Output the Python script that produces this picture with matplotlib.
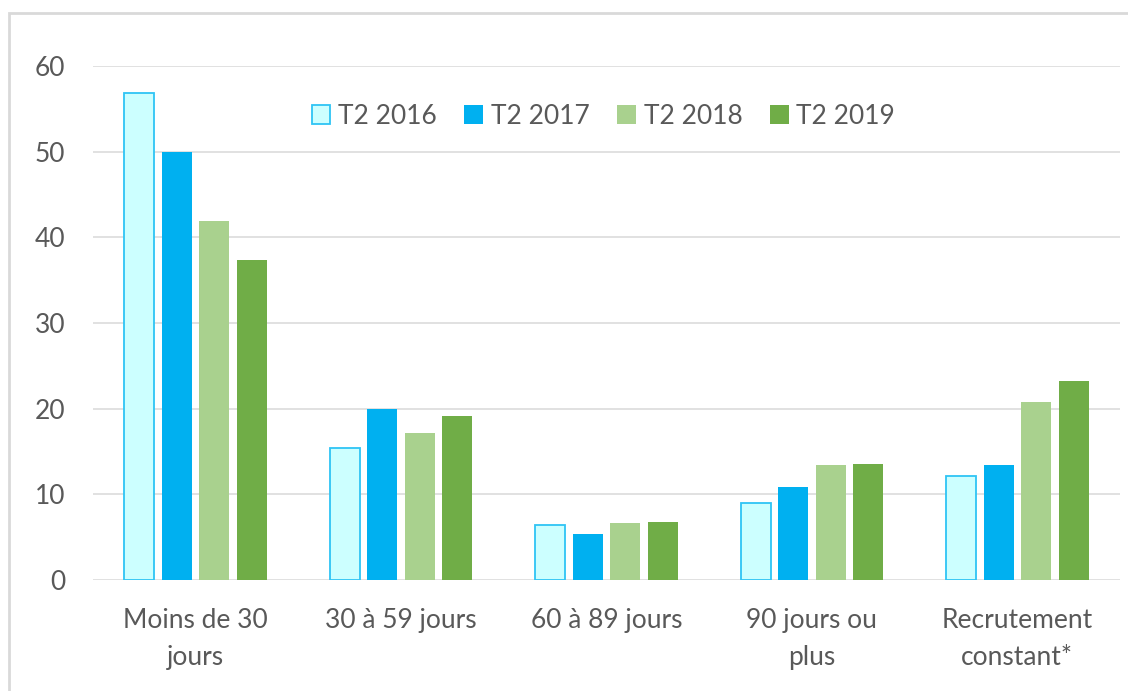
import numpy as np
import matplotlib.pyplot as plt
from matplotlib.patches import Rectangle

categories = ['Moins de 30\njours', '30 à 59 jours', '60 à 89 jours', '90 jours ou\nplus', 'Recrutement\nconstant*']
series = ['T2 2016', 'T2 2017', 'T2 2018', 'T2 2019']
t2_2016 = [56.8, 15.4, 6.4, 9.0, 12.2]
t2_2017 = [50.0, 20.0, 5.4, 10.9, 13.4]
t2_2018 = [41.9, 17.2, 6.6, 13.4, 20.8]
t2_2019 = [37.3, 19.1, 6.8, 13.6, 23.2]

fills = ['#CCFFFF', '#00B0F0', '#A9D18E', '#70AD47']
edges = ['#2EC4F5', '#00B0F0', '#A9D18E', '#70AD47']
grey = '#595959'

plt.rcParams['font.family'] = ['Lato', 'DejaVu Sans']

fig = plt.figure(figsize=(11.28, 6.91), dpi=100)
ax = fig.add_axes([0.0824, 0.1606, 0.9105, 0.7439])

# light frame round the chart, like the Excel chart area
fig.patches.append(Rectangle((0.008, -0.05), 1.1, 1.031, transform=fig.transFigure,
                             fill=False, edgecolor='#D9D9D9', linewidth=2))

x = np.arange(len(categories))
step = 0.1825
width = 0.146
for i, vals in enumerate([t2_2016, t2_2017, t2_2018, t2_2019]):
    ax.bar(x + (i - 1.5) * step, vals, width, color=fills[i], edgecolor=edges[i],
           linewidth=1.3 if i == 0 else 0, label=series[i], zorder=3)

ax.set_xlim(-0.5, 4.5)
ax.set_ylim(0, 60)
ax.set_yticks(range(0, 61, 10))
ax.grid(axis='y', color='#DEDEDE', linewidth=1.3, zorder=0)
for s in ax.spines.values():
    s.set_visible(False)
ax.tick_params(axis='both', length=0, labelsize=19, colors=grey)
ax.tick_params(axis='y', pad=20)
ax.tick_params(axis='x', pad=20)
ax.set_xticks(x)
ax.set_xticklabels(categories, linespacing=1.63)

ax.legend(loc='center', bbox_to_anchor=(0.497, 0.902), ncol=4, frameon=False,
          fontsize=19, labelcolor=grey, handlelength=0.7, handleheight=0.7,
          handletextpad=0.3, columnspacing=1.05)

fig.savefig('out.png', dpi=100)
